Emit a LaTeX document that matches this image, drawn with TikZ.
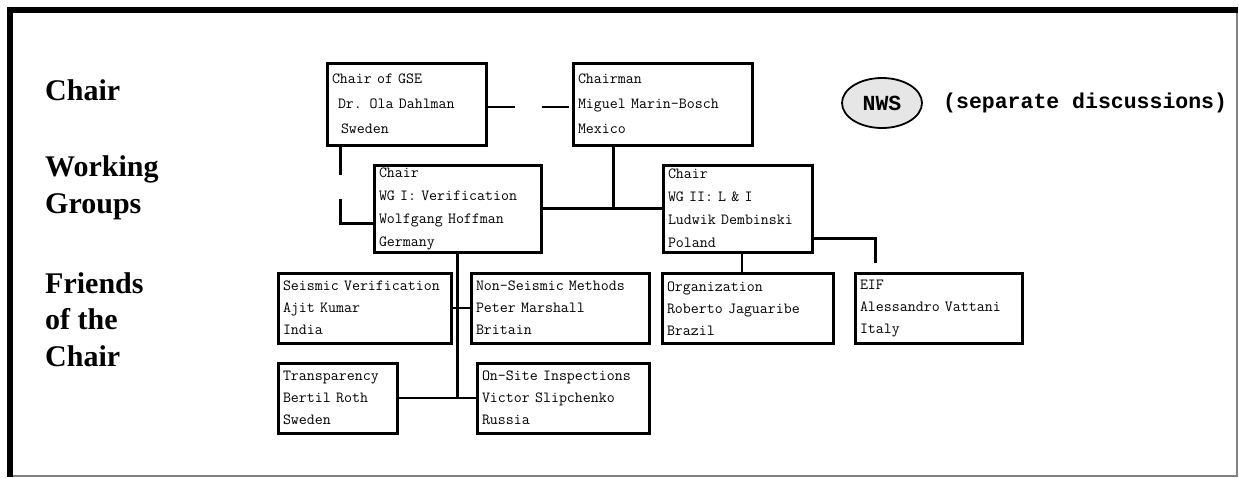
\documentclass[tikz,border=0pt]{standalone}
\usepackage{fontspec}
\usetikzlibrary{shapes.geometric,calc}
\newfontfamily\bigfont{Liberation Mono}
\newfontfamily\labfont{Liberation Serif}
\newcommand\boxfnt{\ttfamily}
\definecolor{framegray}{RGB}{128,128,128}
\definecolor{nwsgray}{RGB}{230,230,230}
\begin{document}
\begin{tikzpicture}[x=1pt,y=-1pt,
  conn/.style={line width=2.8pt},
  box/.style={draw, line width=3pt, inner xsep=5pt, inner ysep=0pt, align=left},
  topbox/.style={box, font=\boxfnt\fontsize{15.5}{25}\selectfont, minimum height=82pt},
  wgbox/.style={box, font=\boxfnt\fontsize{15.5}{23}\selectfont, minimum height=87pt},
  fbox/.style={box, font=\boxfnt\fontsize{15.5}{22}\selectfont, minimum height=70pt},
  lab/.style={anchor=base west, inner sep=0pt, font=\labfont\bfseries\fontsize{30}{37}\selectfont},
  big/.style={font=\bigfont\bfseries\fontsize{21.5}{26}\selectfont}
]
\useasboundingbox (0,0) rectangle (1239,477);
% frame
\draw[framegray, line width=2pt] (10,476) -- (1237,476) -- (1237,10);
\draw[black, line width=6pt] (10,477) -- (10,10) -- (1238,10);

% left labels
\node[lab] (l1) at (45,100) {Chair};
\node[lab] (l2) at (45,176) {Working};
\node[lab] (l3) at (45,213) {Groups};
\node[lab] (l4) at (45,293) {Friends};
\node[lab] (l5) at (45,329) {of the};
\node[lab] (l6) at (45,366) {Chair};

% boxes
\node[topbox, text width=149pt] (gse) at (406.5,104) {Chair of GSE\\\hspace*{6pt}Dr. Ola Dahlman\\\hspace*{9pt}Sweden};
\node[topbox, text width=169pt] (chm) at (662.5,104) {Chairman\\Miguel Marin-Bosch\\Mexico};
\node[wgbox, text width=157pt] (wg1) at (457.5,208.5) {Chair\\WG I: Verification\\Wolfgang Hoffman\\Germany};
\node[wgbox, text width=139pt] (wg2) at (737.5,208.5) {Chair\\WG II: L \& I\\Ludwik Dembinski\\Poland};
\node[fbox, text width=163pt] (sv) at (364.5,308) {Seismic Verification\\Ajit Kumar\\India};
\node[fbox, text width=168pt] (nsm) at (560,308) {Non-Seismic Methods\\Peter Marshall\\Britain};
\node[fbox, text width=109pt] (tr) at (337.5,398) {Transparency\\Bertil Roth\\Sweden};
\node[fbox, text width=162pt] (osi) at (563,398) {On-Site Inspections\\Victor Slipchenko\\Russia};
\node[fbox, text width=161pt] (org) at (747.5,308.5) {Organization\\Roberto Jaguaribe\\Brazil};
\node[fbox, text width=157pt] (ef) at (938.5,308.5) {EIF\\Alessandro Vattani\\Italy};

% NWS
\node[ellipse, draw, fill=nwsgray, line width=1.8pt, minimum width=80pt, minimum height=50pt, inner sep=0pt, big] (nws) at (882,103) {NWS};
\node[anchor=west, inner sep=0pt, big] (sep) at (943,103) {(separate discussions)};

% connectors
\draw[conn, dash pattern=on 27pt off 27pt] ($(gse.east)+(0,3)$) -- ($(chm.west)+(0,3)$);
\coordinate (gj1) at ($(gse.south west)+(15,0)$);
\coordinate (gj2) at ($(wg1.south west)+(0,-30)$);
\draw[conn, dash pattern=on 28pt off 24pt on 300pt off 1pt] (gj1) |- (gj2);
\draw[conn] (wg1.east) -- (wg2.west);
\coordinate (cj) at ($(chm.south west)+(42,0)$);
\draw[conn] (cj) -- (cj |- wg1.east);
\draw[conn] (wg1.south) -- (wg1.south |- tr.east);
\draw[conn] (sv.east) -- (nsm.west);
\draw[conn] (tr.east) -- (osi.west);
\coordinate (oj) at ($(wg2.south)+(4.5,0)$);
\draw[conn] (oj) -- (oj |- org.north);
\coordinate (ej1) at ($(wg2.south east)+(0,-15)$);
\coordinate (ej2) at ($(ef.north west)+(22,-9)$);
\draw[conn] (ej1) -| (ej2);
\end{tikzpicture}
\end{document}
